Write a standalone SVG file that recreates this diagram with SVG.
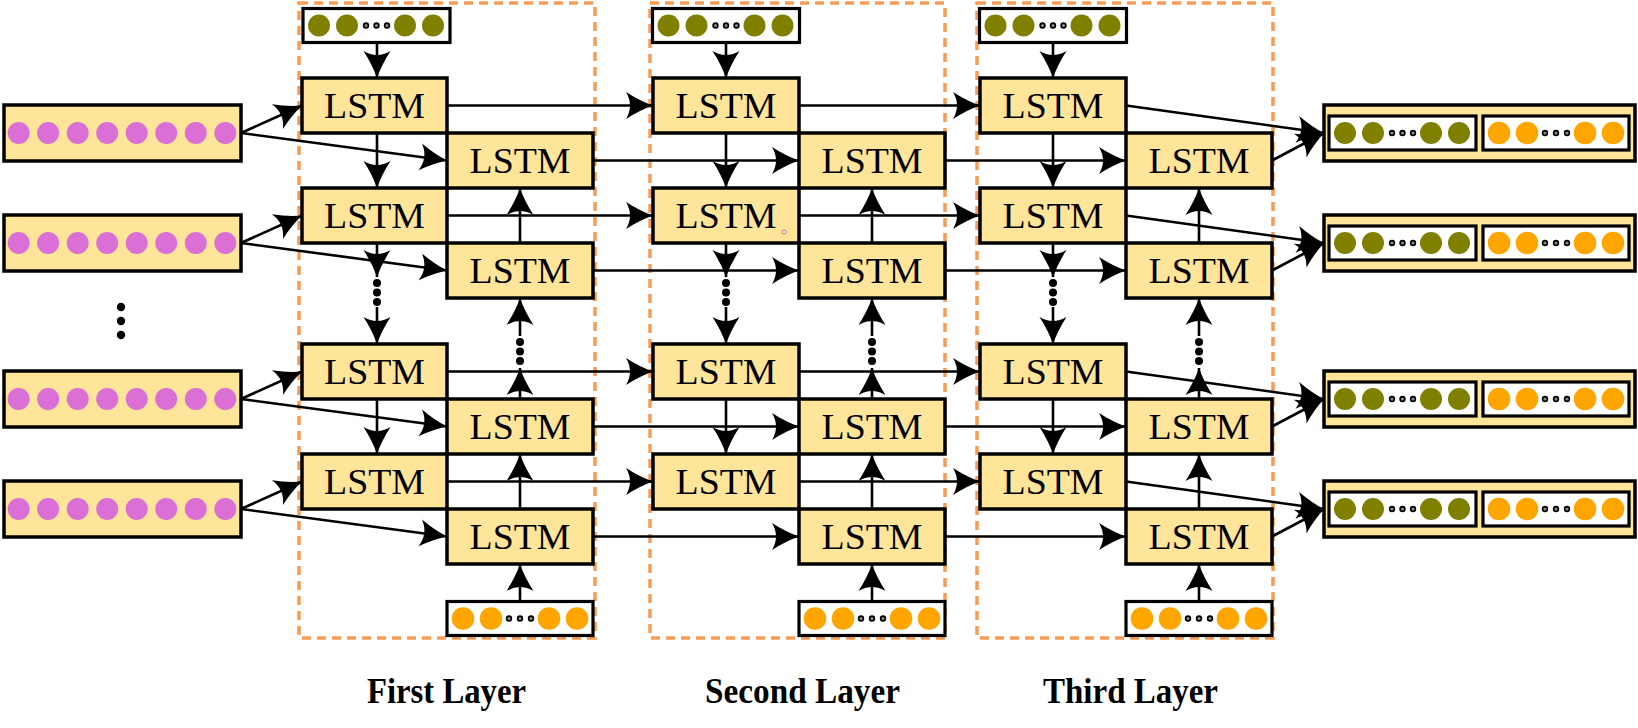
<svg xmlns="http://www.w3.org/2000/svg" xmlns:xlink="http://www.w3.org/1999/xlink" width="1638" height="728" viewBox="0 0 1638 728">
<style>
.bg{fill:#ffffff}
.lstm rect{fill:#FFE599;stroke:#000;stroke-width:3.5}
.lstm text{font-family:"Liberation Serif","Times New Roman",serif;font-size:35px;text-anchor:middle;fill:#000}
.inp rect,.out>rect{fill:#FFE599;stroke:#000;stroke-width:3.5}
.vb{fill:#fff;stroke:#000;stroke-width:3.2}
.pk{fill:#DA70D6}
.ol{fill:#808000}
.or{fill:#FFA500}
.dt{fill:#888;stroke:#000;stroke-width:1.6}
.bd{fill:#000}
.dash{fill:none;stroke:#F59D56;stroke-width:3.5;stroke-dasharray:9 6}
.conn line{stroke:#000;stroke-width:2.6;fill:none;marker-end:url(#ah)}
.lab{font-family:"Liberation Serif","Times New Roman",serif;font-weight:bold;font-size:36px;text-anchor:middle;fill:#000}
</style>
<defs>
<marker id="ah" markerUnits="userSpaceOnUse" viewBox="-30 -16 32 32" markerWidth="32" markerHeight="32" refX="0" refY="0" orient="auto">
<path d="M0,0 Q-13,-4.5 -27,-13.5 Q-19,0 -27,13.5 Q-13,4.5 0,0 Z" fill="#000"/>
</marker>
<g id="vo">
<rect class="vb" x="0" y="0" width="147" height="34"/>
<circle class="ol" cx="16" cy="17" r="11"/><circle class="ol" cx="44" cy="17" r="11"/>
<circle class="dt" cx="63" cy="17" r="2.4"/><circle class="dt" cx="73.5" cy="17" r="2.4"/><circle class="dt" cx="84" cy="17" r="2.4"/>
<circle class="ol" cx="102" cy="17" r="11"/><circle class="ol" cx="130" cy="17" r="11"/>
</g>
<g id="vr">
<rect class="vb" x="0" y="0" width="146" height="34"/>
<circle class="or" cx="16" cy="17" r="11.3"/><circle class="or" cx="44" cy="17" r="11.3"/>
<circle class="dt" cx="62" cy="17" r="2.4"/><circle class="dt" cx="73" cy="17" r="2.4"/><circle class="dt" cx="84" cy="17" r="2.4"/>
<circle class="or" cx="102" cy="17" r="11.3"/><circle class="or" cx="130" cy="17" r="11.3"/>
</g>
<g id="pinks">
<circle class="pk" cx="18.6" cy="0" r="11"/><circle class="pk" cx="48.1" cy="0" r="11"/><circle class="pk" cx="77.7" cy="0" r="11"/><circle class="pk" cx="107.2" cy="0" r="11"/>
<circle class="pk" cx="136.7" cy="0" r="11"/><circle class="pk" cx="166.2" cy="0" r="11"/><circle class="pk" cx="195.8" cy="0" r="11"/><circle class="pk" cx="225.3" cy="0" r="11"/>
</g>
</defs>
<rect class="bg" x="0" y="0" width="1638" height="728"/>

<g id="layers">
<rect class="dash" x="299" y="3" width="296" height="635"/>
<rect class="dash" x="650" y="3" width="295" height="635"/>
<rect class="dash" x="977" y="3" width="296" height="635"/>
</g>

<g id="connectors" class="conn">
<line x1="241" y1="133" x2="302" y2="105.5"/><line x1="241" y1="133" x2="447" y2="160.5"/>
<line x1="241" y1="243" x2="302" y2="215.5"/><line x1="241" y1="243" x2="447" y2="270.5"/>
<line x1="241" y1="399" x2="302" y2="371.5"/><line x1="241" y1="399" x2="447" y2="426.5"/>
<line x1="241" y1="509" x2="302" y2="481.5"/><line x1="241" y1="509" x2="447" y2="536.5"/>
<line x1="447" y1="105.5" x2="653" y2="105.5"/><line x1="799" y1="105.5" x2="980" y2="105.5"/>
<line x1="447" y1="215.5" x2="653" y2="215.5"/><line x1="799" y1="215.5" x2="980" y2="215.5"/>
<line x1="447" y1="371.5" x2="653" y2="371.5"/><line x1="799" y1="371.5" x2="980" y2="371.5"/>
<line x1="447" y1="481.5" x2="653" y2="481.5"/><line x1="799" y1="481.5" x2="980" y2="481.5"/>
<line x1="593" y1="160.5" x2="799" y2="160.5"/><line x1="945" y1="160.5" x2="1126" y2="160.5"/>
<line x1="593" y1="270.5" x2="799" y2="270.5"/><line x1="945" y1="270.5" x2="1126" y2="270.5"/>
<line x1="593" y1="426.5" x2="799" y2="426.5"/><line x1="945" y1="426.5" x2="1126" y2="426.5"/>
<line x1="593" y1="536.5" x2="799" y2="536.5"/><line x1="945" y1="536.5" x2="1126" y2="536.5"/>
<line x1="1126" y1="105.5" x2="1324" y2="133"/><line x1="1272" y1="160.5" x2="1324" y2="133"/>
<line x1="1126" y1="215.5" x2="1324" y2="243"/><line x1="1272" y1="270.5" x2="1324" y2="243"/>
<line x1="1126" y1="371.5" x2="1324" y2="399"/><line x1="1272" y1="426.5" x2="1324" y2="399"/>
<line x1="1126" y1="481.5" x2="1324" y2="509"/><line x1="1272" y1="536.5" x2="1324" y2="509"/>
<line x1="377" y1="42.5" x2="377" y2="78"/><line x1="377" y1="133" x2="377" y2="188"/>
<line x1="377" y1="243" x2="377" y2="277"/><line x1="377" y1="307" x2="377" y2="344"/>
<line x1="377" y1="399" x2="377" y2="454"/>
<line x1="520" y1="601.5" x2="520" y2="564"/><line x1="520" y1="509" x2="520" y2="454"/>
<line x1="520" y1="399" x2="520" y2="368"/><line x1="520" y1="336" x2="520" y2="298"/>
<line x1="520" y1="243" x2="520" y2="188"/>
<line x1="726" y1="42.5" x2="726" y2="78"/><line x1="726" y1="133" x2="726" y2="188"/>
<line x1="726" y1="243" x2="726" y2="277"/><line x1="726" y1="307" x2="726" y2="344"/>
<line x1="726" y1="399" x2="726" y2="454"/>
<line x1="872" y1="601.5" x2="872" y2="564"/><line x1="872" y1="509" x2="872" y2="454"/>
<line x1="872" y1="399" x2="872" y2="368"/><line x1="872" y1="336" x2="872" y2="298"/>
<line x1="872" y1="243" x2="872" y2="188"/>
<line x1="1053" y1="42.5" x2="1053" y2="78"/><line x1="1053" y1="133" x2="1053" y2="188"/>
<line x1="1053" y1="243" x2="1053" y2="277"/><line x1="1053" y1="307" x2="1053" y2="344"/>
<line x1="1053" y1="399" x2="1053" y2="454"/>
<line x1="1199" y1="601.5" x2="1199" y2="564"/><line x1="1199" y1="509" x2="1199" y2="454"/>
<line x1="1199" y1="399" x2="1199" y2="368"/><line x1="1199" y1="336" x2="1199" y2="298"/>
<line x1="1199" y1="243" x2="1199" y2="188"/>
</g>

<g id="ellipsis-dots">
<circle class="bd" cx="121" cy="307" r="4.2"/><circle class="bd" cx="121" cy="321" r="4.2"/><circle class="bd" cx="121" cy="335" r="4.2"/>
<circle class="bd" cx="377" cy="283" r="4"/><circle class="bd" cx="377" cy="292.5" r="4"/><circle class="bd" cx="377" cy="302" r="4"/>
<circle class="bd" cx="726" cy="283" r="4"/><circle class="bd" cx="726" cy="292.5" r="4"/><circle class="bd" cx="726" cy="302" r="4"/>
<circle class="bd" cx="1053" cy="283" r="4"/><circle class="bd" cx="1053" cy="292.5" r="4"/><circle class="bd" cx="1053" cy="302" r="4"/>
<circle class="bd" cx="520" cy="342" r="4"/><circle class="bd" cx="520" cy="351.5" r="4"/><circle class="bd" cx="520" cy="361" r="4"/>
<circle class="bd" cx="872" cy="342" r="4"/><circle class="bd" cx="872" cy="351.5" r="4"/><circle class="bd" cx="872" cy="361" r="4"/>
<circle class="bd" cx="1199" cy="342" r="4"/><circle class="bd" cx="1199" cy="351.5" r="4"/><circle class="bd" cx="1199" cy="361" r="4"/>
</g>

<g id="input1" class="inp"><rect x="4" y="105" width="237" height="56"/><use href="#pinks" x="0" y="133"/></g>
<g id="input2" class="inp"><rect x="4" y="215" width="237" height="56"/><use href="#pinks" x="0" y="243"/></g>
<g id="input3" class="inp"><rect x="4" y="371" width="237" height="56"/><use href="#pinks" x="0" y="399"/></g>
<g id="input4" class="inp"><rect x="4" y="481" width="237" height="56"/><use href="#pinks" x="0" y="509"/></g>

<g id="top1"><use href="#vo" x="303" y="8.5"/></g>
<g id="top2"><use href="#vo" x="652.5" y="8.5"/></g>
<g id="top3"><use href="#vo" x="979.5" y="8.5"/></g>
<g id="bot1"><use href="#vr" x="447" y="601.5"/></g>
<g id="bot2"><use href="#vr" x="799" y="601.5"/></g>
<g id="bot3"><use href="#vr" x="1126" y="601.5"/></g>

<g id="l1L1" class="lstm"><rect x="302" y="78" width="145" height="55"/><text x="374.5" y="117.5" textLength="101" lengthAdjust="spacingAndGlyphs">LSTM</text></g>
<g id="l1R1" class="lstm"><rect x="447" y="133" width="146" height="55"/><text x="520" y="172.5" textLength="101" lengthAdjust="spacingAndGlyphs">LSTM</text></g>
<g id="l1L2" class="lstm"><rect x="302" y="188" width="145" height="55"/><text x="374.5" y="227.5" textLength="101" lengthAdjust="spacingAndGlyphs">LSTM</text></g>
<g id="l1R2" class="lstm"><rect x="447" y="243" width="146" height="55"/><text x="520" y="282.5" textLength="101" lengthAdjust="spacingAndGlyphs">LSTM</text></g>
<g id="l1L3" class="lstm"><rect x="302" y="344" width="145" height="55"/><text x="374.5" y="383.5" textLength="101" lengthAdjust="spacingAndGlyphs">LSTM</text></g>
<g id="l1R3" class="lstm"><rect x="447" y="399" width="146" height="55"/><text x="520" y="438.5" textLength="101" lengthAdjust="spacingAndGlyphs">LSTM</text></g>
<g id="l1L4" class="lstm"><rect x="302" y="454" width="145" height="55"/><text x="374.5" y="493.5" textLength="101" lengthAdjust="spacingAndGlyphs">LSTM</text></g>
<g id="l1R4" class="lstm"><rect x="447" y="509" width="146" height="55"/><text x="520" y="548.5" textLength="101" lengthAdjust="spacingAndGlyphs">LSTM</text></g>

<g id="l2L1" class="lstm"><rect x="653" y="78" width="146" height="55"/><text x="726" y="117.5" textLength="101" lengthAdjust="spacingAndGlyphs">LSTM</text></g>
<g id="l2R1" class="lstm"><rect x="799" y="133" width="146" height="55"/><text x="872" y="172.5" textLength="101" lengthAdjust="spacingAndGlyphs">LSTM</text></g>
<g id="l2L2" class="lstm"><rect x="653" y="188" width="146" height="55"/><text x="726" y="227.5" textLength="101" lengthAdjust="spacingAndGlyphs">LSTM</text><circle cx="784" cy="232" r="2" fill="#fff" stroke="#E06666" stroke-width="1"/></g>
<g id="l2R2" class="lstm"><rect x="799" y="243" width="146" height="55"/><text x="872" y="282.5" textLength="101" lengthAdjust="spacingAndGlyphs">LSTM</text></g>
<g id="l2L3" class="lstm"><rect x="653" y="344" width="146" height="55"/><text x="726" y="383.5" textLength="101" lengthAdjust="spacingAndGlyphs">LSTM</text></g>
<g id="l2R3" class="lstm"><rect x="799" y="399" width="146" height="55"/><text x="872" y="438.5" textLength="101" lengthAdjust="spacingAndGlyphs">LSTM</text></g>
<g id="l2L4" class="lstm"><rect x="653" y="454" width="146" height="55"/><text x="726" y="493.5" textLength="101" lengthAdjust="spacingAndGlyphs">LSTM</text></g>
<g id="l2R4" class="lstm"><rect x="799" y="509" width="146" height="55"/><text x="872" y="548.5" textLength="101" lengthAdjust="spacingAndGlyphs">LSTM</text></g>

<g id="l3L1" class="lstm"><rect x="980" y="78" width="146" height="55"/><text x="1053" y="117.5" textLength="101" lengthAdjust="spacingAndGlyphs">LSTM</text></g>
<g id="l3R1" class="lstm"><rect x="1126" y="133" width="146" height="55"/><text x="1199" y="172.5" textLength="101" lengthAdjust="spacingAndGlyphs">LSTM</text></g>
<g id="l3L2" class="lstm"><rect x="980" y="188" width="146" height="55"/><text x="1053" y="227.5" textLength="101" lengthAdjust="spacingAndGlyphs">LSTM</text></g>
<g id="l3R2" class="lstm"><rect x="1126" y="243" width="146" height="55"/><text x="1199" y="282.5" textLength="101" lengthAdjust="spacingAndGlyphs">LSTM</text></g>
<g id="l3L3" class="lstm"><rect x="980" y="344" width="146" height="55"/><text x="1053" y="383.5" textLength="101" lengthAdjust="spacingAndGlyphs">LSTM</text></g>
<g id="l3R3" class="lstm"><rect x="1126" y="399" width="146" height="55"/><text x="1199" y="438.5" textLength="101" lengthAdjust="spacingAndGlyphs">LSTM</text></g>
<g id="l3L4" class="lstm"><rect x="980" y="454" width="146" height="55"/><text x="1053" y="493.5" textLength="101" lengthAdjust="spacingAndGlyphs">LSTM</text></g>
<g id="l3R4" class="lstm"><rect x="1126" y="509" width="146" height="55"/><text x="1199" y="548.5" textLength="101" lengthAdjust="spacingAndGlyphs">LSTM</text></g>

<g id="output1" class="out"><rect x="1324" y="105" width="311" height="56"/><use href="#vo" x="1329" y="116"/><use href="#vr" x="1483" y="116"/></g>
<g id="output2" class="out"><rect x="1324" y="215" width="311" height="56"/><use href="#vo" x="1329" y="226"/><use href="#vr" x="1483" y="226"/></g>
<g id="output3" class="out"><rect x="1324" y="371" width="311" height="56"/><use href="#vo" x="1329" y="382"/><use href="#vr" x="1483" y="382"/></g>
<g id="output4" class="out"><rect x="1324" y="481" width="311" height="56"/><use href="#vo" x="1329" y="492"/><use href="#vr" x="1483" y="492"/></g>

<g id="labels">
<text class="lab" x="446.5" y="703" textLength="159" lengthAdjust="spacingAndGlyphs">First Layer</text>
<text class="lab" x="802.5" y="703" textLength="195" lengthAdjust="spacingAndGlyphs">Second Layer</text>
<text class="lab" x="1130.5" y="703" textLength="175" lengthAdjust="spacingAndGlyphs">Third Layer</text>
</g>
</svg>
